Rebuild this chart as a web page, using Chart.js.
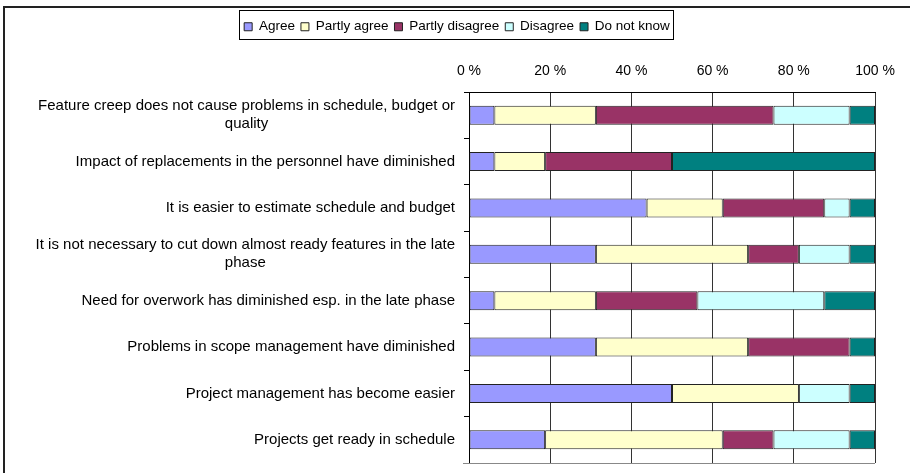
<!DOCTYPE html>
<html><head><meta charset="utf-8">
<script src="https://cdn.jsdelivr.net/npm/chart.js@4"></script>
<style>html,body{margin:0;padding:0;background:#fff}canvas{display:block}</style>
</head><body>
<canvas id="c" width="910" height="473"></canvas>
<script>
const categories = [
  ["Feature creep does not cause problems in schedule, budget or", "quality"],
  "Impact of replacements in the personnel have diminished",
  "It is easier to estimate schedule and budget",
  ["It is not necessary to cut down almost ready features in the late", "phase"],
  "Need for overwork has diminished esp. in the late phase",
  "Problems in scope management have diminished",
  "Project management has become easier",
  "Projects get ready in schedule"
];
const seriesNames = ["Agree", "Partly agree", "Partly disagree", "Disagree", "Do not know"];
const agree          = [6.25, 6.25, 43.75, 31.25, 6.25, 31.25, 50, 18.75];
const partlyAgree    = [25, 12.5, 18.75, 37.5, 25, 37.5, 31.25, 43.75];
const partlyDisagree = [43.75, 31.25, 25, 12.5, 25, 25, 0, 12.5];
const disagree       = [18.75, 0, 6.25, 12.5, 31.25, 0, 12.5, 18.75];
const doNotKnow      = [6.25, 50, 6.25, 6.25, 12.5, 6.25, 6.25, 6.25];
const xTicks = [0, 20, 40, 60, 80, 100];

const colors = ["#9999FF", "#FFFFCC", "#993366", "#CCFFFF", "#008080"];
const values = [agree, partlyAgree, partlyDisagree, disagree, doNotKnow];
const FONT = "'Liberation Sans', Arial, sans-serif";
const PAD_TOP = 14;

const frame = {
  id: 'frame',
  beforeDraw(chart) {
    const c = chart.ctx;
    c.save();
    c.strokeStyle = '#222'; c.lineWidth = 2;
    c.beginPath(); c.moveTo(4, 473); c.lineTo(4, 7); c.lineTo(910, 7); c.stroke();
    c.restore();
  },
  afterDraw(chart) {
    const c = chart.ctx, a = chart.chartArea;
    c.save();
    c.strokeStyle = '#888'; c.lineWidth = 1;
    c.beginPath(); c.moveTo(a.left - 6, Math.round(a.bottom) + 0.5); c.lineTo(a.right, Math.round(a.bottom) + 0.5); c.stroke();
    const hb = chart.legend.legendHitBoxes;
    if (hb && hb.length) {
      let x0 = Infinity, x1 = -Infinity, y0 = Infinity, y1 = -Infinity;
      hb.forEach(h => { x0 = Math.min(x0, h.left); x1 = Math.max(x1, h.left + h.width); y0 = Math.min(y0, h.top); y1 = Math.max(y1, h.top + h.height); });
      c.strokeStyle = '#000'; c.lineWidth = 1;
      c.strokeRect(Math.round(x0 - 5) + 0.5, Math.round(y0 - 10) + 0.5, Math.round(x1 - x0 + 8), Math.round(y1 - y0 + 15));
    }
    const ys = chart.scales.y;
    c.font = '15px ' + FONT; c.fillStyle = '#000'; c.textBaseline = 'middle'; c.textAlign = 'center';
    const right = a.left - 14, lh = 18;
    chart.data.labels.forEach((lab, i) => {
      const lines = Array.isArray(lab) ? lab : [lab];
      const w = Math.max(...lines.map(l => c.measureText(l).width));
      const cx = right - w / 2;
      const yc = ys.getPixelForValue(i);
      lines.forEach((l, k) => c.fillText(l, cx, yc + (k - (lines.length - 1) / 2) * lh));
    });
    c.restore();
  }
};

new Chart(document.getElementById('c'), {
  type: 'bar',
  data: {
    labels: categories,
    datasets: seriesNames.map((n, i) => ({
      label: n, data: values[i], backgroundColor: colors[i],
      borderColor: '#222', borderWidth: 1, borderSkipped: false,
      barPercentage: 0.41, categoryPercentage: 1
    }))
  },
  options: {
    indexAxis: 'y', responsive: false, animation: false,
    layout: { padding: { left: 39, right: 35, top: PAD_TOP, bottom: 10 } },
    plugins: {
      tooltip: { enabled: false },
      legend: {
        position: 'top',
        labels: { font: { family: FONT, size: 13.5 }, color: '#000', boxWidth: 8, boxHeight: 8, padding: 6 }
      }
    },
    scales: {
      x: {
        position: 'top', stacked: true, min: 0, max: 100,
        afterBuildTicks: s => { s.ticks = xTicks.map(v => ({ value: v })); },
        ticks: { callback: v => v + ' %', font: { family: FONT, size: 14 }, color: '#000', padding: 12, maxRotation: 0 },
        grid: { color: '#333', drawTicks: false, lineWidth: 1 },
        border: { display: true, color: '#000', width: 1 },
        afterFit: s => { s.height = 92 - PAD_TOP - s.chart.legend.height; }
      },
      y: {
        stacked: true, offset: true,
        ticks: { display: false },
        grid: { offset: true, drawOnChartArea: false, drawTicks: true, tickLength: 5, color: '#000', lineWidth: 1 },
        border: { display: true, color: '#000', width: 1 },
        afterFit: s => { s.width = 469 - 39; }
      }
    }
  },
  plugins: [frame]
});
</script>
</body></html>
